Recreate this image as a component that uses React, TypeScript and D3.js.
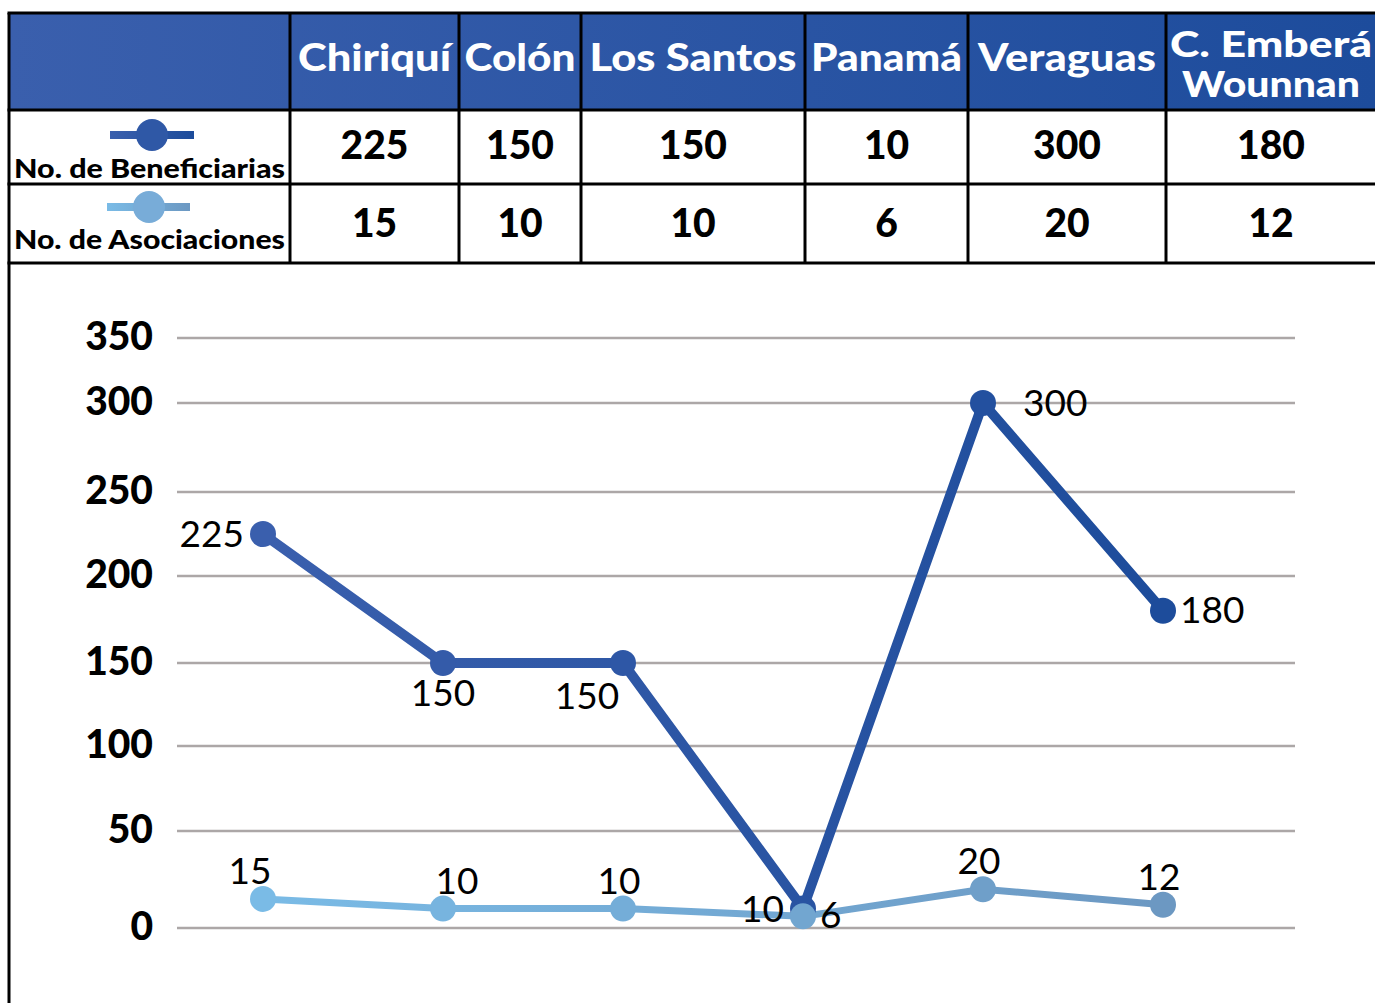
import React from "react";
import * as d3 from "d3";

const categories = ["Chiriquí", "Colón", "Los Santos", "Panamá", "Veraguas", "C. Emberá Wounnan"];
const headerLines = [["Chiriquí"], ["Colón"], ["Los Santos"], ["Panamá"], ["Veraguas"], ["C. Emberá", "Wounnan"]];
const beneficiarias = [225, 150, 150, 10, 300, 180];
const asociaciones = [15, 10, 10, 6, 20, 12];
const seriesNames = ["No. de Beneficiarias", "No. de Asociaciones"];
const yTicks = [0, 50, 100, 150, 200, 250, 300, 350];

// style / layout (not data)
const darkPlacement = ["left", "below", "belowLeft", "left", "farRight", "right"];
const lightPlacement = ["aboveLeft", "aboveRight", "above", "right", "above", "above"];
const headerWidths = [[153], [111], [207], [151], [178], [202, 178]];
const legendWidths = [271, 271];

const W = 1375;
const H = 1003;
const colEdges = [9, 290, 459, 581, 805, 968, 1166, 1380];
const rowEdges = [13, 110, 184, 263];
const gridRange = [928, 831, 746, 663, 576, 492, 403, 338];
const FONT = "Lato, 'Open Sans', sans-serif";

export default function App() {
  const x = d3.scalePoint<string>().domain(categories).range([263, 1163]);
  const y = d3.scaleLinear().domain(yTicks).range(gridRange);

  const line = d3
    .line<number>()
    .x((_, i) => x(categories[i]) as number)
    .y((d) => y(d));

  const labelPos = (p: string, px: number, py: number) => {
    switch (p) {
      case "left":
        return { x: px - 19, y: py + 13, anchor: "end" };
      case "right":
        return { x: px + 17, y: py + 12, anchor: "start" };
      case "farRight":
        return { x: px + 40, y: py + 13, anchor: "start" };
      case "below":
        return { x: px, y: py + 43, anchor: "middle" };
      case "belowLeft":
        return { x: px - 36, y: py + 46, anchor: "middle" };
      case "aboveLeft":
        return { x: px - 13, y: py - 15, anchor: "middle" };
      case "aboveRight":
        return { x: px + 14, y: py - 15, anchor: "middle" };
      case "above":
      default:
        return { x: px - 4, y: py - 15, anchor: "middle" };
    }
  };

  const colCenters = colEdges.slice(1, -1).map((e, i) => (e + colEdges[i + 2]) / 2);
  colCenters[colCenters.length - 1] = 1271;

  return (
    <svg
      width={W}
      height={H}
      viewBox={`0 0 ${W} ${H}`}
      style={{ position: "absolute", left: 0, top: 0, display: "block", background: "#fff" }}
    >
      <defs>
        <linearGradient id="hdr" x1="0" x2="1" y1="0" y2="0">
          <stop offset="0%" stopColor="#3a5fad" />
          <stop offset="100%" stopColor="#1d4c9c" />
        </linearGradient>
        <linearGradient id="darkG" gradientUnits="userSpaceOnUse" x1={263} x2={1163} y1={0} y2={0}>
          <stop offset="0%" stopColor="#3a5fad" />
          <stop offset="100%" stopColor="#1d4c9b" />
        </linearGradient>
        <linearGradient id="lightG" gradientUnits="userSpaceOnUse" x1={263} x2={1163} y1={0} y2={0}>
          <stop offset="0%" stopColor="#7abbe6" />
          <stop offset="100%" stopColor="#6c98c2" />
        </linearGradient>
        <linearGradient id="legDark" gradientUnits="userSpaceOnUse" x1={110} x2={194} y1={0} y2={0}>
          <stop offset="0%" stopColor="#3a5fad" />
          <stop offset="100%" stopColor="#1d4c9b" />
        </linearGradient>
        <linearGradient id="legLight" gradientUnits="userSpaceOnUse" x1={107} x2={190} y1={0} y2={0}>
          <stop offset="0%" stopColor="#7abbe6" />
          <stop offset="100%" stopColor="#6c98c2" />
        </linearGradient>
      </defs>

      {/* header */}
      <rect x={colEdges[0]} y={rowEdges[0]} width={W - colEdges[0]} height={rowEdges[1] - rowEdges[0]} fill="url(#hdr)" />
      {headerLines.map((lines, i) =>
        lines.map((l, j) => (
          <text
            key={"h" + i + "_" + j}
            x={colCenters[i]}
            y={lines.length === 1 ? 71 : 57 + j * 40}
            textAnchor="middle"
            fill="#fff"
            fontFamily={FONT}
            fontWeight={900}
            fontSize={lines.length === 1 ? 38 : 36}
            textLength={headerWidths[i][j]}
            lengthAdjust="spacingAndGlyphs"
          >
            {l}
          </text>
        ))
      )}

      {/* values rows */}
      {beneficiarias.map((v, i) => (
        <text key={"b" + i} x={colCenters[i]} y={159} textAnchor="middle" fontFamily={FONT} fontWeight={900} fontSize={39} fill="#000">
          {v}
        </text>
      ))}
      {asociaciones.map((v, i) => (
        <text key={"a" + i} x={colCenters[i]} y={237} textAnchor="middle" fontFamily={FONT} fontWeight={900} fontSize={39} fill="#000">
          {v}
        </text>
      ))}

      {/* legend in table */}
      <line x1={110} x2={194} y1={135} y2={135} stroke="url(#legDark)" strokeWidth={8} />
      <circle cx={152} cy={135} r={16} fill="#2f58a6" />
      <text x={14} y={178} fontFamily={FONT} fontWeight={900} fontSize={26} fill="#000" textLength={legendWidths[0]} lengthAdjust="spacingAndGlyphs">
        {seriesNames[0]}
      </text>
      <line x1={107} x2={190} y1={207} y2={207} stroke="url(#legLight)" strokeWidth={8} />
      <circle cx={149} cy={207} r={16} fill="#78acd8" />
      <text x={14} y={249} fontFamily={FONT} fontWeight={900} fontSize={26} fill="#000" textLength={legendWidths[1]} lengthAdjust="spacingAndGlyphs">
        {seriesNames[1]}
      </text>

      {/* table grid lines */}
      {rowEdges.map((r, i) => (
        <line key={"r" + i} x1={colEdges[0] - 1.5} x2={W} y1={r} y2={r} stroke="#000" strokeWidth={3} />
      ))}
      {colEdges.slice(0, -1).map((c, i) => (
        <line key={"c" + i} x1={c} x2={c} y1={rowEdges[0]} y2={rowEdges[3]} stroke="#000" strokeWidth={3} />
      ))}
      <line x1={colEdges[0]} x2={colEdges[0]} y1={rowEdges[3]} y2={H} stroke="#000" strokeWidth={3} />

      {/* gridlines + y labels */}
      {yTicks.map((t) => (
        <g key={"g" + t}>
          <line x1={177} x2={1295} y1={y(t)} y2={y(t)} stroke="#aca7a7" strokeWidth={2.5} />
          <text x={153} y={y(t)} dy={12} textAnchor="end" fontFamily={FONT} fontWeight={900} fontSize={39} fill="#000">
            {t}
          </text>
        </g>
      ))}

      {/* series */}
      <path d={line(asociaciones) || ""} fill="none" stroke="url(#lightG)" strokeWidth={7} strokeLinejoin="round" />
      <path d={line(beneficiarias) || ""} fill="none" stroke="url(#darkG)" strokeWidth={10} strokeLinejoin="round" />
      {beneficiarias.map((v, i) => (
        <circle key={"dc" + i} cx={x(categories[i])} cy={y(v)} r={13} fill={d3.interpolateRgb("#3a5fad", "#1d4c9b")(i / 5)} />
      ))}
      {asociaciones.map((v, i) => (
        <circle key={"lc" + i} cx={x(categories[i])} cy={y(v)} r={13} fill={d3.interpolateRgb("#7abbe6", "#6c98c2")(i / 5)} />
      ))}

      {/* data labels */}
      {beneficiarias.map((v, i) => {
        const p = labelPos(darkPlacement[i], x(categories[i]) as number, y(v));
        return (
          <text key={"dl" + i} x={p.x} y={p.y} textAnchor={p.anchor as any} fontFamily={FONT} fontSize={37} fill="#000">
            {v}
          </text>
        );
      })}
      {asociaciones.map((v, i) => {
        const p = labelPos(lightPlacement[i], x(categories[i]) as number, y(v));
        return (
          <text key={"ll" + i} x={p.x} y={p.y} textAnchor={p.anchor as any} fontFamily={FONT} fontSize={37} fill="#000">
            {v}
          </text>
        );
      })}
    </svg>
  );
}
